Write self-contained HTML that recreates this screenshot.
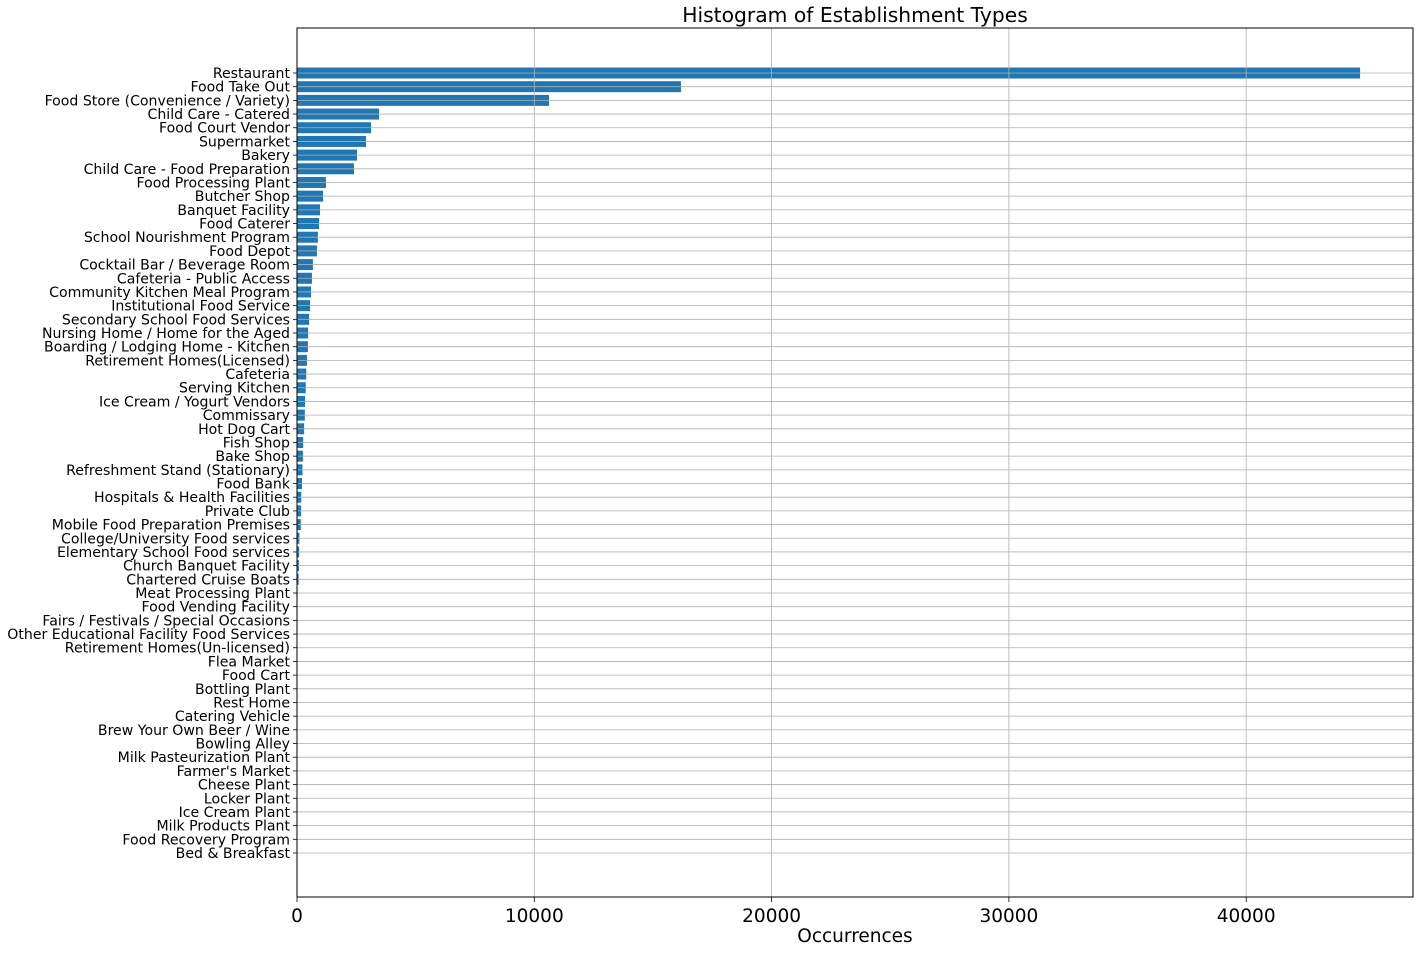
<!DOCTYPE html>
<html><head><meta charset="utf-8"><style>
body{margin:0;background:#fff;font-family:"DejaVu Sans","Liberation Sans",sans-serif;}
</style></head><body>
<svg id="chart" width="1424" height="952" xmlns="http://www.w3.org/2000/svg"></svg>
<script>
const categories=["Restaurant","Food Take Out","Food Store (Convenience / Variety)","Child Care - Catered","Food Court Vendor","Supermarket","Bakery","Child Care - Food Preparation","Food Processing Plant","Butcher Shop","Banquet Facility","Food Caterer","School Nourishment Program","Food Depot","Cocktail Bar / Beverage Room","Cafeteria - Public Access","Community Kitchen Meal Program","Institutional Food Service","Secondary School Food Services","Nursing Home / Home for the Aged","Boarding / Lodging Home - Kitchen","Retirement Homes(Licensed)","Cafeteria","Serving Kitchen","Ice Cream / Yogurt Vendors","Commissary","Hot Dog Cart","Fish Shop","Bake Shop","Refreshment Stand (Stationary)","Food Bank","Hospitals & Health Facilities","Private Club","Mobile Food Preparation Premises","College/University Food services","Elementary School Food services","Church Banquet Facility","Chartered Cruise Boats","Meat Processing Plant","Food Vending Facility","Fairs / Festivals / Special Occasions","Other Educational Facility Food Services","Retirement Homes(Un-licensed)","Flea Market","Food Cart","Bottling Plant","Rest Home","Catering Vehicle","Brew Your Own Beer / Wine","Bowling Alley","Milk Pasteurization Plant","Farmer's Market","Cheese Plant","Locker Plant","Ice Cream Plant","Milk Products Plant","Food Recovery Program","Bed & Breakfast"];
const counts=[44800,16180,10620,3460,3120,2910,2530,2400,1220,1100,970,930,880,840,670,630,590,550,510,470,460,420,390,370,340,330,300,260,250,230,210,180,170,160,100,90,80,70,25,20,18,15,12,10,9,8,7,6,5,4,4,3,3,2,2,2,1,1];
const xTicks=[0,10000,20000,30000,40000];
const svg=document.getElementById('chart');const NS='http://www.w3.org/2000/svg';
const L=297,R=1413,T=28,B=897,XMAX=47030;
const x=v=>L+v/XMAX*(R-L);
const y0=73,step=(853-73)/(categories.length-1);
const y=i=>y0+i*step;
function el(t,a,txt){const e=document.createElementNS(NS,t);for(const k in a)e.setAttribute(k,a[k]);if(txt!=null)e.textContent=txt;svg.appendChild(e);return e;}
categories.forEach((c,i)=>{
 const bw=Math.max(0,x(counts[i])-L);
 const b=el('rect',{x:L,y:y(i)-5.5,width:bw,height:11,fill:'#1f77b4'});
 
 
});
categories.forEach((c,i)=>{
 const g=el('line',{x1:L,x2:R,y1:y(i),y2:y(i),stroke:'#b0b0b0','stroke-width':0.8});
 
 
 el('line',{x1:L-4,x2:L,y1:y(i),y2:y(i),stroke:'#000','stroke-width':0.8});
 const t=el('text',{x:L-7,y:y(i)+5,'text-anchor':'end','font-size':14.1,fill:'#000'},c);
 
 
});
xTicks.forEach(v=>{
 const g=el('line',{x1:x(v),x2:x(v),y1:T,y2:B,stroke:'#b0b0b0','stroke-width':0.8});
 
 
 el('line',{x1:x(v),x2:x(v),y1:B,y2:B+5,stroke:'#000','stroke-width':0.8});
 const t=el('text',{x:x(v),y:B+25,'text-anchor':'middle','font-size':18.5,fill:'#000'},String(v));
 
 
});
const f=el('rect',{x:L,y:T,width:R-L,height:B-T,fill:'none',stroke:'#000','stroke-width':1});

const ti=el('text',{x:(L+R)/2,y:22,'text-anchor':'middle','font-size':20.3},'Histogram of Establishment Types');

const xl=el('text',{x:(L+R)/2,y:942,'text-anchor':'middle','font-size':18.5},'Occurrences');

</script>
</body></html>
